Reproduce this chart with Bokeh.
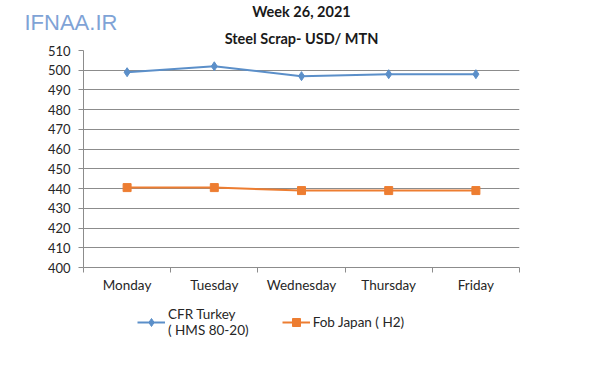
from bokeh.plotting import figure
from bokeh.layouts import column
from bokeh.models import (FixedTicker, Title, Legend, LegendItem, ColumnDataSource)
from bokeh.embed import file_html
from bokeh.resources import INLINE

days = ["Monday", "Tuesday", "Wednesday", "Thursday", "Friday"]
cfr_turkey = [499, 502, 497, 498, 498]
fob_japan = [440.5, 440.5, 439, 439, 439]
y_ticks = list(range(400, 511, 10))
series_names = ["CFR Turkey\n( HMS 80-20)", "Fob Japan ( H2)"]
title1 = "Week 26, 2021"
title2 = "Steel Scrap- USD/ MTN"
watermark = "IFNAA.IR"

FONT = "Lato"
BLUE = "#5B8FC9"
ORANGE = "#ED7D31"
GRID = "#8C8C8C"
TXT = "#262626"

xs = list(range(1, len(days) + 1))
src = ColumnDataSource(dict(x=xs, cfr=cfr_turkey, fob=fob_japan))

p = figure(frame_width=436, frame_height=217, output_backend="svg", toolbar_location=None,
           x_range=(0.5, len(days) + 0.5), y_range=(400, 510),
           min_border_left=83, min_border_right=65, min_border_top=49,
           min_border_bottom=33)
p.outline_line_color = None
p.background_fill_color = "white"
p.border_fill_color = "white"

# grid
p.xgrid.grid_line_color = None
p.ygrid.grid_line_color = GRID
p.ygrid.grid_line_width = 1
p.ygrid.ticker = FixedTicker(ticks=y_ticks)

# y axis
p.yaxis.ticker = FixedTicker(ticks=y_ticks)
p.yaxis.axis_line_color = GRID
p.yaxis.major_tick_line_color = GRID
p.yaxis.major_tick_out = 5
p.yaxis.major_tick_in = 0
p.yaxis.minor_tick_line_color = None
p.yaxis.major_label_text_font = FONT
p.yaxis.major_label_text_font_size = "13px"
p.yaxis.major_label_text_color = TXT
p.yaxis.major_label_standoff = 8

# x axis
bounds = [i + 0.5 for i in range(0, len(days) + 1)]
p.xaxis.ticker = FixedTicker(ticks=xs, minor_ticks=bounds)
p.xaxis.major_label_overrides = {i: d for i, d in zip(xs, days)}
p.xaxis.axis_line_color = GRID
p.xaxis.major_tick_line_color = None
p.xaxis.minor_tick_line_color = GRID
p.xaxis.minor_tick_out = 5
p.xaxis.minor_tick_in = 0
p.xaxis.major_label_text_font = FONT
p.xaxis.major_label_text_font_size = "13.5px"
p.xaxis.major_label_text_color = TXT
p.xaxis.major_label_standoff = 3

# series
p.line("x", "cfr", source=src, line_color=BLUE, line_width=2)
p.scatter("x", "cfr", source=src, marker="diamond", size=9,
          fill_color=BLUE, line_color=BLUE)
p.line("x", "fob", source=src, line_color=ORANGE, line_width=2)
p.scatter("x", "fob", source=src, marker="square", size=8,
          fill_color=ORANGE, line_color=ORANGE)

# titles in the top panel (nearest first)
p.add_layout(Title(text=title2, align="center", offset=13, standoff=8,
                   text_font=FONT, text_font_style="bold", text_font_size="14.5px",
                   text_color="#1a1a1a"), "above")
p.add_layout(Title(text=watermark, align="left", offset=-59, standoff=-23,
                   text_font="Liberation Sans", text_font_style="normal",
                   text_font_size="22px", text_color="#7FA3D6"), "above")
p.add_layout(Title(text=title1, align="center", offset=13, standoff=0,
                   text_font=FONT, text_font_style="bold", text_font_size="14.5px",
                   text_color="#1a1a1a"), "above")

# legend strip below the chart; its frame lines up with the main frame
pl = figure(frame_width=436, frame_height=46, output_backend="svg", toolbar_location=None,
            x_range=(-10, -9), y_range=(-10, -9), x_axis_location=None, y_axis_location=None,
            min_border_left=83, min_border_right=65, min_border_top=0, min_border_bottom=0)
pl.outline_line_color = None
pl.xgrid.grid_line_color = None
pl.ygrid.grid_line_color = None
pl.background_fill_color = "white"
pl.border_fill_color = "white"
# same series, drawn outside this strip's visible range: only the legend samples show
r1 = pl.line("x", "cfr", source=src, line_color=BLUE, line_width=2)
s1 = pl.scatter("x", "cfr", source=src, marker="diamond", size=9,
                fill_color=BLUE, line_color=BLUE)
r2 = pl.line("x", "fob", source=src, line_color=ORANGE, line_width=2)
s2 = pl.scatter("x", "fob", source=src, marker="square", size=8,
                fill_color=ORANGE, line_color=ORANGE)

legend = Legend(items=[
    LegendItem(label=series_names[0], renderers=[r1, s1]),
    LegendItem(label=series_names[1], renderers=[r2, s2]),
], orientation="horizontal", location=(54, 8))
legend.border_line_color = None
legend.background_fill_alpha = 0
legend.label_text_font = FONT
legend.label_text_font_size = "13.5px"
legend.label_text_color = TXT
legend.glyph_width = 28
legend.label_standoff = 3
legend.spacing = 33
legend.padding = 0
legend.margin = 0
pl.add_layout(legend, "center")

layout = column(p, pl, spacing=0)
open("out.html", "w").write(file_html(layout, INLINE))
